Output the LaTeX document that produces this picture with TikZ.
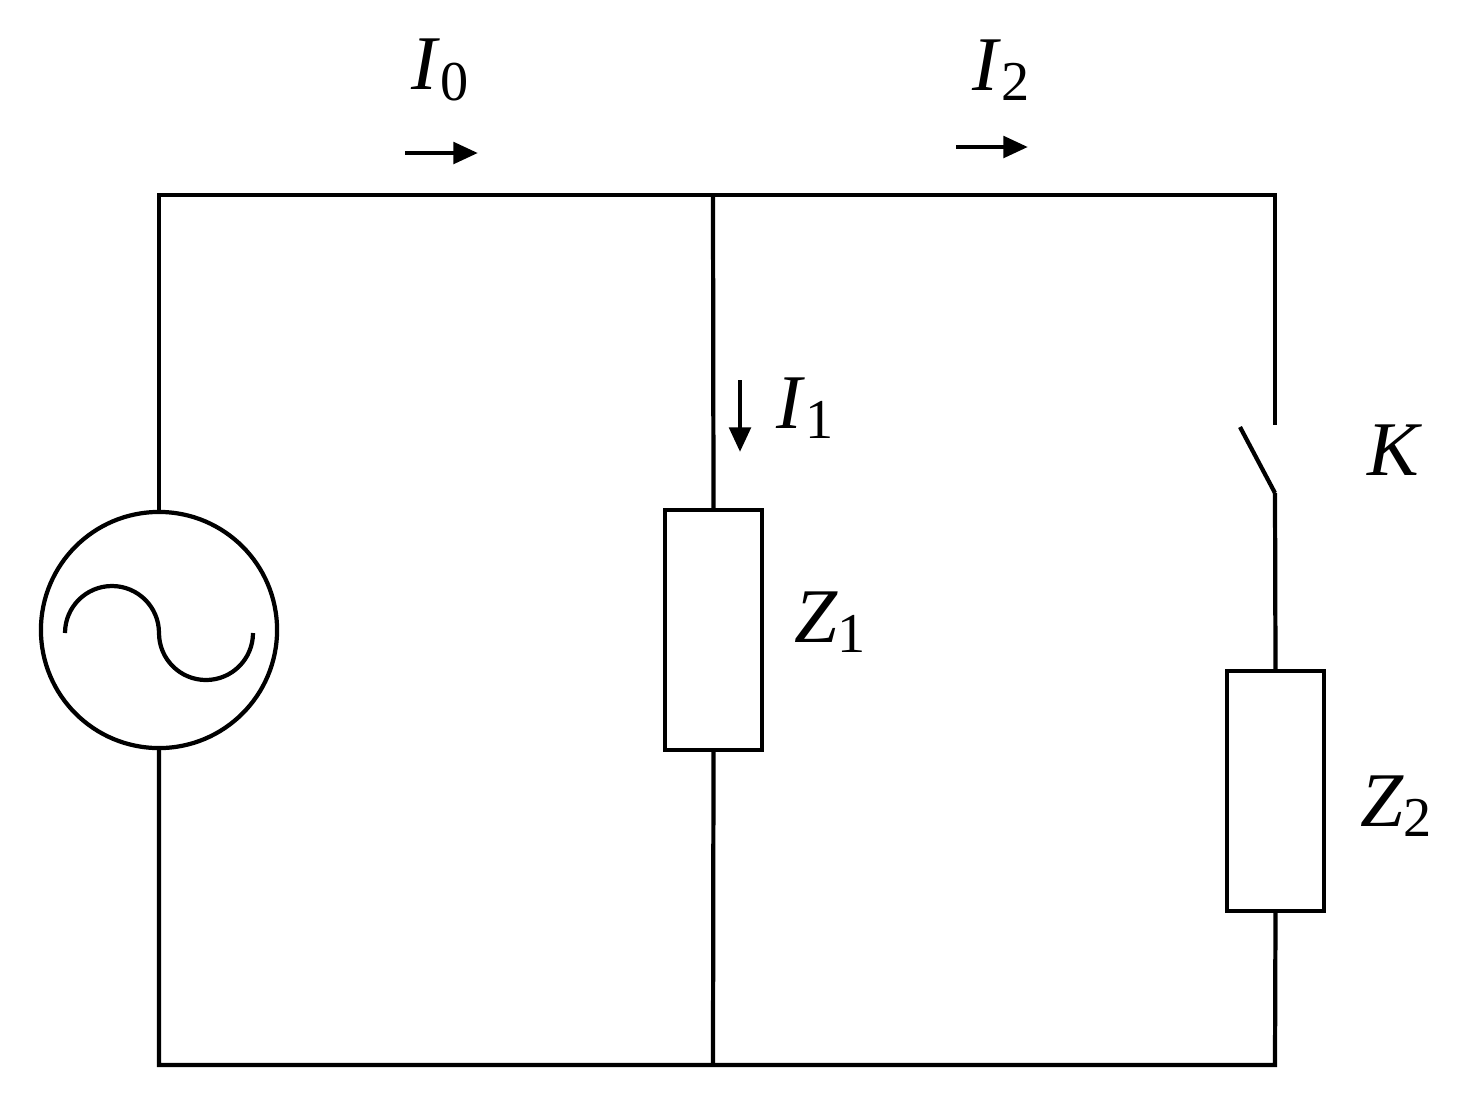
\documentclass[tikz,border=0pt]{standalone}
\usepackage{fontspec}
\setmainfont{Liberation Serif}
\usetikzlibrary{arrows.meta}
\newcommand{\lbl}[2]{{\fontsize{22}{22}\selectfont\textit{#1}\raisebox{-0.3ex}{\fontsize{16}{16}\selectfont #2}}}
\begin{document}
\begin{tikzpicture}[x=0.01cm,y=-0.01cm,
  w/.style={line width=1.2pt},
  box/.style={w,draw,minimum width=0.97cm,minimum height=2.4cm,inner sep=0},
  cur/.style={line width=1.4pt,-{Triangle[length=7pt,width=6pt]}},
  lab/.style={inner sep=0}]
\useasboundingbox (0,0) rectangle (1463,1102);
\coordinate (tl) at (159,195); \coordinate (tm) at (713,195); \coordinate (tr) at (1275,195);
\coordinate (bl) at (159,1065); \coordinate (bm) at (713,1065); \coordinate (br) at (1275,1065);
\node[w,draw,circle,minimum size=2.36cm,inner sep=0] (src) at (159,630) {};
\node[box] (z1) at (713.5,630) {};
\node[box] (z2) at (1275.5,791) {};
\coordinate (s1) at (1275,425); \coordinate (s2) at (1275,493); \coordinate (sb) at (1240,427);
\draw[w] (src.north) -- (tl) -- (tr) -- (s1);
\draw[w] (src.south) -- (bl) -- (br) -- (z2.south);
\draw[w] (tm) -- (z1.north); \draw[w] (z1.south) -- (bm);
\draw[w] (s2) -- (z2.north); \draw[w] (sb) -- (s2);
\draw[w] (65,633) arc[start angle=180,end angle=360,radius=47] arc[start angle=180,end angle=0,radius=47];
\coordinate (a0s) at (405,153); \coordinate (a0e) at (478,153);
\coordinate (a2s) at (956,147); \coordinate (a2e) at (1028,147);
\coordinate (a1s) at (740,380); \coordinate (a1e) at (740,452);
\draw[cur] (a0s) -- (a0e); \draw[cur] (a2s) -- (a2e); \draw[cur] (a1s) -- (a1e);
\node[lab] (i0) at (440,70) {\lbl{I}{0}};
\node[lab] (i2) at (1001,70) {\lbl{I}{2}};
\node[lab] (i1) at (805,408) {\lbl{I}{1}};
\node[lab] (lz1) at (830,622) {\lbl{Z}{1}};
\node[lab] (lz2) at (1396,806) {\lbl{Z}{2}};
\node[lab] (lk) at (1395,455) {\lbl{K}{}};
\end{tikzpicture}
\end{document}
